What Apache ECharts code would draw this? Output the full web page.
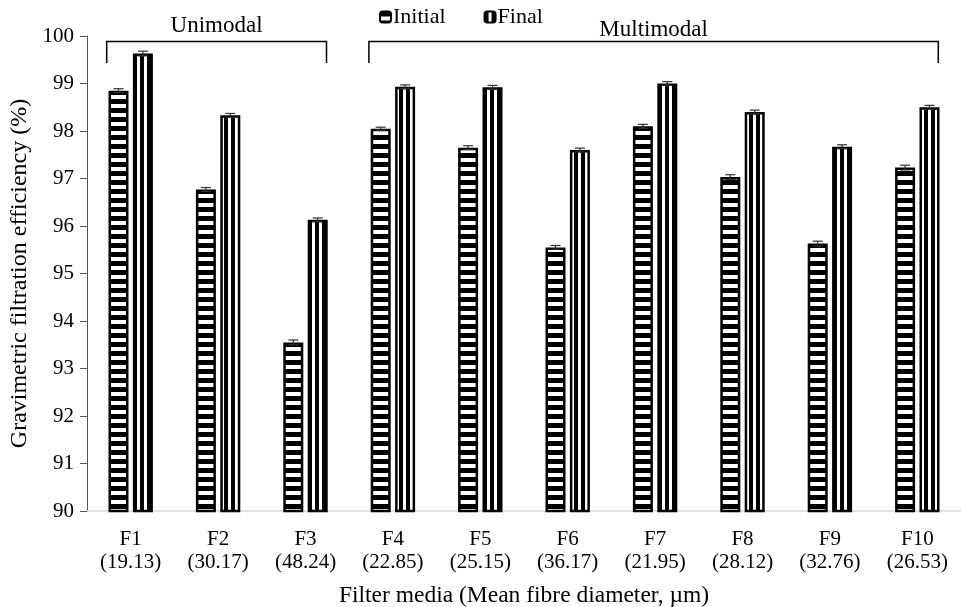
<!DOCTYPE html>
<html>
<head>
<meta charset="utf-8">
<script src="https://cdn.jsdelivr.net/npm/echarts@6/dist/echarts.min.js"></script>
<style>html,body{margin:0;padding:0;background:#fff}#c{width:961px;height:607px}</style>
</head>
<body>
<div id="c"></div>
<script>
const categories = ['F1\n(19.13)','F2\n(30.17)','F3\n(48.24)','F4\n(22.85)','F5\n(25.15)','F6\n(36.17)','F7\n(21.95)','F8\n(28.12)','F9\n(32.76)','F10\n(26.53)'];
const initialValues = [98.85, 96.77, 93.55, 98.05, 97.65, 95.55, 98.10, 97.03, 95.63, 97.23];
const finalValues   = [99.63, 98.33, 96.13, 98.93, 98.92, 97.60, 99.00, 98.40, 97.67, 98.50];
const initialErr = [0.04, 0.04, 0.05, 0.03, 0.04, 0.04, 0.04, 0.05, 0.05, 0.05];
const finalErr   = [0.05, 0.04, 0.04, 0.04, 0.04, 0.04, 0.04, 0.04, 0.04, 0.04];
const yTicks = [90, 91, 92, 93, 94, 95, 96, 97, 98, 99, 100];
const groups = [
  {name: 'Unimodal', from: 0, to: 2},
  {name: 'Multimodal', from: 3, to: 9}
];

function hPattern(){
  const c = document.createElement('canvas'); c.width = 4; c.height = 9;
  const g = c.getContext('2d');
  g.fillStyle = '#000'; g.fillRect(0,0,4,9);
  g.fillStyle = '#fff'; g.fillRect(0,5,4,4);
  return c;
}
function vPattern(){
  const c = document.createElement('canvas'); c.width = 7; c.height = 4;
  const g = c.getContext('2d');
  g.fillStyle = '#fff'; g.fillRect(0,0,7,4);
  g.fillStyle = '#000'; g.fillRect(0,0,4,4);
  return c;
}
const hp = hPattern(), vp = vPattern();

const chart = echarts.init(document.getElementById('c'), null, {renderer: 'canvas'});
const FONT = 'Liberation Serif';
const BW = 20, OFF = 12.2;

function errSeries(vals, errs, offset){
  return {
    type: 'custom', silent: true, z: 5,
    data: vals.map((v,i)=>[i, v, errs[i]]),
    renderItem: function(params, api){
      const i = api.value(0), v = api.value(1), e = api.value(2);
      const top = api.coord([i, v + e]);
      const bot = api.coord([i, v - e]);
      const x = top[0] + offset;
      return {type:'group', children:[
        {type:'line', shape:{x1:x,y1:top[1],x2:x,y2:bot[1]}, style:{stroke:'#333',lineWidth:1.2}},
        {type:'line', shape:{x1:x-5,y1:top[1],x2:x+5,y2:top[1]}, style:{stroke:'#333',lineWidth:1.2}},
        {type:'line', shape:{x1:x-5,y1:bot[1],x2:x+5,y2:bot[1]}, style:{stroke:'#333',lineWidth:1.2}}
      ]};
    }
  };
}

const bracketSeries = {
  type: 'custom', silent: true, z: 6,
  data: groups.map((g,k)=>[g.from, g.to, k]),
  renderItem: function(params, api){
    const k = api.value(2);
    const g = groups[k];
    const a = api.coord([g.from, 100]);
    const b = api.coord([g.to, 100]);
    const x1 = a[0] - 24, x2 = b[0] + 21;
    const y = 41.5;
    return {type:'group', children:[
      {type:'polyline', shape:{points:[[x1,63],[x1,y],[x2,y],[x2,63]]}, style:{stroke:'#000',lineWidth:1.5,fill:null}},
      {type:'text', style:{text:g.name, x:(x1+x2)/2, y: k===0 ? 26 : 30, align:'center', verticalAlign:'middle', font:'23px "Liberation Serif"', fill:'#000'}}
    ]};
  }
};

chart.setOption({
  animation: false,
  grid: {left: 87, right: 0, top: 36, bottom: 96, containLabel: false, outerBoundsMode: 'none'},
  legend: {
    top: 1, left: 374, itemGap: 38, itemWidth: 11, itemHeight: 11,
    textStyle: {fontFamily: FONT, fontSize: 22, color: '#000', padding:[0,0,0,-3]},
    data: ['Initial', 'Final']
  },
  xAxis: {
    type: 'category', data: categories,
    axisLine: {lineStyle: {color: '#d9d9d9', width: 1.5}},
    axisTick: {show: false},
    axisLabel: {fontFamily: FONT, fontSize: 21, color: '#000', lineHeight: 23, margin: 17},
    name: 'Filter media (Mean fibre diameter, \u00b5m)', nameLocation: 'middle', nameGap: 73,
    nameTextStyle: {fontFamily: FONT, fontSize: 23.5, color: '#000'}
  },
  yAxis: {
    type: 'value', min: yTicks[0], max: yTicks[yTicks.length-1], interval: 1,
    axisLine: {show: true, lineStyle: {color: '#555', width: 1}},
    axisTick: {show: true, length: 7, lineStyle: {color: '#555'}},
    splitLine: {show: false},
    axisLabel: {fontFamily: FONT, fontSize: 21, color: '#000', margin: 13},
    name: 'Gravimetric filtration efficiency (%)', nameLocation: 'middle', nameGap: 55,
    nameTextStyle: {fontFamily: FONT, fontSize: 24, color: '#000'}
  },
  series: [
    {name:'Initial', type:'bar', data: initialValues, barWidth: BW, barGap: '22%',
     itemStyle:{color:{image: hp, repeat:'repeat'}, borderColor:'#000', borderWidth:2.5}},
    {name:'Final', type:'bar', data: finalValues, barWidth: BW,
     itemStyle:{color:{image: vp, repeat:'repeat'}, borderColor:'#000', borderWidth:2.5}},
    errSeries(initialValues, initialErr, -OFF),
    errSeries(finalValues, finalErr, OFF),
    bracketSeries
  ]
});
</script>
</body>
</html>
